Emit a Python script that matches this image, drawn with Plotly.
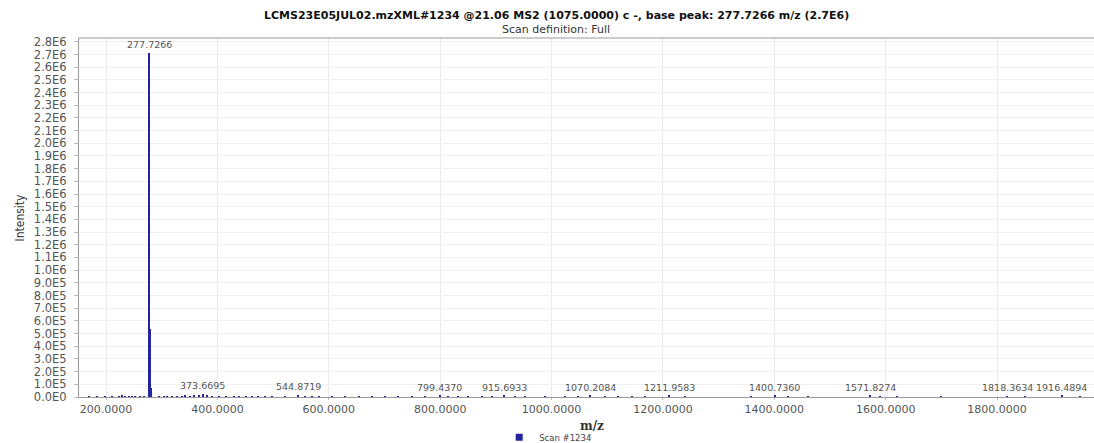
import plotly.graph_objects as go

# ---- data ----
mz_values = [169.5, 184.0, 199.0, 211.0, 223.0, 229.0, 235.0, 241.0, 247.0, 253.0, 262.0, 268.0,
             277.7266, 279.3, 280.6,
             295.0, 304.0, 310.0, 319.0, 328.0, 337.0, 343.0, 352.0, 358.0, 367.0, 373.6695, 382.0, 391.0,
             403.0, 415.0, 430.0, 439.0, 451.0, 462.0, 474.0, 486.0, 498.0, 522.0, 544.8719, 558.0, 570.0,
             582.0, 606.0, 630.0, 654.0, 678.0, 702.0, 725.0, 749.0, 773.0, 799.4370, 815.0, 833.0, 851.0,
             875.0, 893.0, 915.6933, 935.0, 953.0, 989.0, 1025.0, 1048.0, 1070.2084, 1096.0, 1120.0, 1144.0,
             1168.0, 1211.9583, 1240.0, 1359.0, 1400.7360, 1425.0, 1460.0, 1571.8274, 1590.0, 1620.0,
             1700.0, 1818.3634, 1850.0, 1916.4894, 1950.0]
intensity = [3000, 3000, 4000, 3000, 5000, 14000, 6000, 5000, 6000, 5000, 4000, 5000,
             2710000, 535000, 70000,
             4000, 6000, 5000, 6000, 7000, 6000, 8000, 7000, 9000, 12000, 27000, 9000, 6000,
             4000, 5000, 4000, 5000, 4000, 5000, 4000, 3000, 4000, 5000, 12000, 7000, 6000,
             4000, 3000, 4000, 3000, 4000, 3000, 4000, 3000, 4000, 11000, 5000, 4000, 5000,
             4000, 5000, 9000, 6000, 3000, 3000, 4000, 4000, 9000, 4000, 5000, 4000,
             3000, 9000, 3000, 3000, 9000, 4000, 5000, 8000, 3000, 3000,
             3000, 6000, 3000, 8000, 3000]

labeled_mz = [277.7266, 373.6695, 544.8719, 799.4370, 915.6933, 1070.2084, 1211.9583,
              1400.7360, 1571.8274, 1818.3634, 1916.4894]
labeled_int = [2710000, 27000, 12000, 11000, 9000, 9000, 9000, 9000, 8000, 6000, 8000]
labeled_txt = ["277.7266", "373.6695", "544.8719", "799.4370", "915.6933", "1070.2084", "1211.9583",
               "1400.7360", "1571.8274", "1818.3634", "1916.4894"]

x_ticks = [200, 400, 600, 800, 1000, 1200, 1400, 1600, 1800]
x_ticktext = ["200.0000", "400.0000", "600.0000", "800.0000", "1000.0000", "1200.0000",
              "1400.0000", "1600.0000", "1800.0000"]
y_ticks = [i * 100000 for i in range(29)]
y_ticktext = ["0.0E0"] + ["%.1fE5" % i for i in range(1, 10)] + ["%.1fE6" % (i / 10) for i in range(10, 29)]

title_text = "LCMS23E05JUL02.mzXML#1234 @21.06 MS2 (1075.0000) c -, base peak: 277.7266 m/z (2.7E6)"
subtitle_text = "Scan definition: Full"
series_name = "Scan #1234"
series_color = "#24249c"

# ---- figure ----
fig = go.Figure()
fig.add_trace(go.Bar(x=mz_values, y=intensity, width=2.6, name=series_name,
                     marker=dict(color=series_color, line=dict(width=0)),
                     showlegend=False, legendgroup="s"))
# legend entry (small square swatch, as in the reference)
fig.add_trace(go.Scatter(x=[None], y=[None], mode="markers", name=series_name,
                         legendgroup="s",
                         marker=dict(symbol="square", size=7, color=series_color),
                         showlegend=True))

FONT = "DejaVu Sans, Verdana, sans-serif"
anns = []
for mz, it, t in zip(labeled_mz, labeled_int, labeled_txt):
    anns.append(dict(x=mz, y=it, text=t, showarrow=False, yanchor="bottom", yshift=1,
                     font=dict(family=FONT, size=9.5, color="#555555")))
anns.append(dict(xref="paper", yref="paper", x=0.47, y=1, yshift=23, yanchor="middle",
                 text="<b>" + title_text + "</b>", showarrow=False,
                 font=dict(family=FONT, size=11, color="#111111")))
anns.append(dict(xref="paper", yref="paper", x=0.47, y=1, yshift=9, yanchor="middle",
                 text=subtitle_text, showarrow=False,
                 font=dict(family=FONT, size=11, color="#333333")))
anns.append(dict(xref="paper", yref="paper", x=0.505, y=0, yshift=-29, yanchor="middle",
                 text="<b>m/z</b>", showarrow=False,
                 font=dict(family="DejaVu Serif, serif", size=12, color="#333333")))
anns.append(dict(xref="paper", yref="paper", x=0, xshift=-60, y=0.5, textangle=-90,
                 xanchor="center", yanchor="middle",
                 text="Intensity", showarrow=False,
                 font=dict(family="Liberation Sans Narrow, DejaVu Sans Condensed, sans-serif",
                           size=12, color="#333333")))

fig.update_layout(
    width=1094, height=443,
    margin=dict(l=79, r=0, t=38, b=46, autoexpand=False),
    paper_bgcolor="white", plot_bgcolor="white",
    bargap=0,
    annotations=anns,
    showlegend=True,
    legend=dict(orientation="h", x=0.414, xanchor="left", y=-0.112, yanchor="middle",
                font=dict(family=FONT, size=8.5, color="#444444"),
                bgcolor="rgba(0,0,0,0)", borderwidth=0),
    xaxis=dict(range=[151.5, 1974], tickvals=x_ticks, ticktext=x_ticktext,
               showgrid=True, gridcolor="#ebebeb", gridwidth=1,
               showline=True, linecolor="#999999", linewidth=1,
               ticks="outside", ticklen=2, tickcolor="#bbbbbb",
               tickfont=dict(family=FONT, size=11, color="#555555"),
               zeroline=False, fixedrange=True),
    yaxis=dict(range=[0, 2830000], tickvals=y_ticks, ticktext=y_ticktext,
               showgrid=True, gridcolor="#f0f0f0", gridwidth=1,
               showline=True, linecolor="#999999", linewidth=1, mirror=False,
               ticks="outside", ticklen=4, tickcolor="#bbbbbb", ticklabelstandoff=5,
               tickfont=dict(family=FONT, size=11.5, color="#555555"),
               zeroline=False, fixedrange=True),
    shapes=[dict(type="line", xref="paper", yref="paper", x0=0, x1=1, y0=1, y1=1,
                 line=dict(color="#999999", width=1))],
)

fig.write_html("out.html")
